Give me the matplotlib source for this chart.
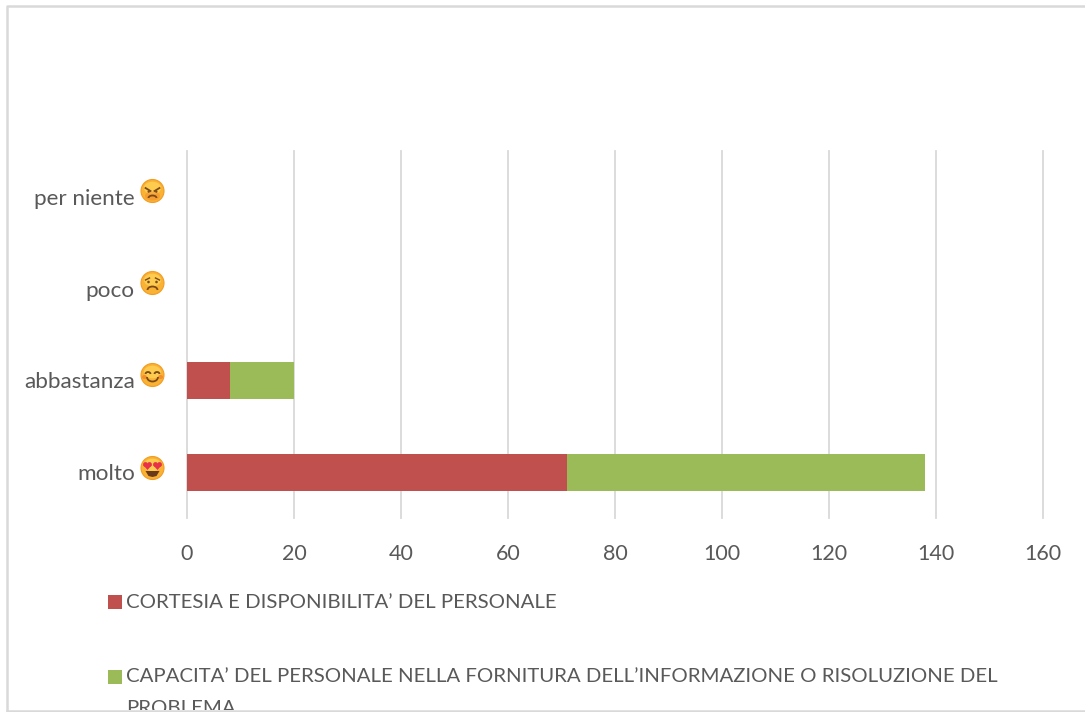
import matplotlib
matplotlib.use('Agg')
import matplotlib.pyplot as plt
from matplotlib.patches import Circle, Ellipse, Polygon, Rectangle, Arc
from matplotlib.lines import Line2D

W, H = 1085, 712
plt.rcParams['font.family'] = ['Lato', 'DejaVu Sans']

categories = ['molto', 'abbastanza', 'poco', 'per niente']
cortesia = [71, 8, 0, 0]
capacita = [67, 12, 0, 0]
x_ticks = [0, 20, 40, 60, 80, 100, 120, 140, 160]
series_names = ['CORTESIA E DISPONIBILITA’ DEL PERSONALE',
                'CAPACITA’ DEL PERSONALE NELLA FORNITURA DELL’INFORMAZIONE O RISOLUZIONE DEL\nPROBLEMA']

RED = '#C0504D'
GREEN = '#9BBB59'
GREY = '#595959'
GRID = '#D9D9D9'

fig = plt.figure(figsize=(W / 100, H / 100), dpi=100)

# calque en pixels pour le cadre, la légende et les emojis (y vers le bas)
px = fig.add_axes([0, 0, 1, 1])
px.set_xlim(0, W)
px.set_ylim(H, 0)
px.axis('off')

ax = fig.add_axes([187 / W, 1 - 518 / H, (1043 - 187) / W, (518 - 151) / H])
ax.set_zorder(1)
ax.patch.set_alpha(0)
y = range(len(categories))
ax.barh(y, cortesia, height=0.405, color=RED)
ax.barh(y, capacita, left=cortesia, height=0.405, color=GREEN)
ax.set_xlim(0, 160)
ax.set_ylim(-0.5, 3.5)
ax.set_xticks(x_ticks)
ax.set_yticks(list(y))
ax.set_yticklabels(categories)
ax.xaxis.grid(True, color=GRID, lw=1.3)
for g in ax.get_xgridlines():
    g.set_clip_on(False)
ax.set_axisbelow(True)
for s in ax.spines.values():
    s.set_visible(False)
ax.tick_params(axis='both', length=0, labelsize=15.5, labelcolor=GREY)
ax.tick_params(axis='x', pad=19)
ax.tick_params(axis='y', pad=37.5, labelsize=16.2)

# cadre de l'image, coupé à droite et en bas
px.add_line(Line2D([1085, 7, 7], [6, 6, 710], color=GRID, lw=1.8))

# légende
clip = Rectangle((0, 0), W, 710, transform=px.transData)
px.add_patch(Rectangle((108, 595), 14, 14, color=RED, lw=0))
px.add_patch(Rectangle((108, 670), 14, 14, color=GREEN, lw=0))
px.text(126, 602, series_names[0], fontsize=14.7, color=GREY, va='center')
px.text(126, 677, series_names[1].split('\n')[0], fontsize=14.7, color=GREY, va='center')
t2 = px.text(126, 708, series_names[1].split('\n')[1], fontsize=14.7, color=GREY, va='center')
t2.set_clip_on(True)
t2.set_clip_path(clip)
px.add_line(Line2D([7, 1085], [710.5, 710.5], color=GRID, lw=1.8, zorder=5))


def face(cx, cy, kind):
    r = 11.5
    px.add_patch(Circle((cx, cy), r, fc='#F9B233', ec='#F39C24', lw=0.8))
    px.add_patch(Ellipse((cx, cy - 3), r * 1.5, r * 1.1, fc='#FDCB4E', ec='none'))
    dark = '#7A4A1C'
    if kind == 'angry':
        px.add_patch(Ellipse((cx, cy + 5), 15, 9, fc='#F0762B', ec='none', alpha=0.35))
        px.add_line(Line2D([cx - 7, cx - 2], [cy - 3, cy], color=dark, lw=1.3))
        px.add_line(Line2D([cx + 7, cx + 2], [cy - 3, cy], color=dark, lw=1.3))
        px.add_patch(Circle((cx - 3.8, cy + 0.6), 1.2, fc=dark, ec='none'))
        px.add_patch(Circle((cx + 3.8, cy + 0.6), 1.2, fc=dark, ec='none'))
        px.add_patch(Arc((cx, cy + 7), 8, 5, theta1=180, theta2=360, color=dark, lw=1.3))
    elif kind == 'sad':
        px.add_patch(Circle((cx - 4, cy - 1), 1.3, fc=dark, ec='none'))
        px.add_patch(Circle((cx + 4, cy - 1), 1.3, fc=dark, ec='none'))
        px.add_line(Line2D([cx - 7, cx - 3], [cy - 3, cy - 5], color=dark, lw=1))
        px.add_line(Line2D([cx + 7, cx + 3], [cy - 3, cy - 5], color=dark, lw=1))
        px.add_patch(Arc((cx, cy + 7), 10, 7, theta1=180, theta2=360, color=dark, lw=1.3))
    elif kind == 'smile':
        px.add_patch(Arc((cx - 4.5, cy - 1), 5, 4, theta1=180, theta2=360, color=dark, lw=1.3))
        px.add_patch(Arc((cx + 4.5, cy - 1), 5, 4, theta1=180, theta2=360, color=dark, lw=1.3))
        px.add_patch(Ellipse((cx - 8, cy + 2), 5, 4, fc='#F0762B', ec='none', alpha=0.6))
        px.add_patch(Ellipse((cx + 8, cy + 2), 5, 4, fc='#F0762B', ec='none', alpha=0.6))
        px.add_patch(Arc((cx, cy + 2), 11, 9, theta1=0, theta2=180, color=dark, lw=1.3))
    else:
        px.add_patch(Polygon([(cx - 7, cy + 3), (cx + 7, cy + 3), (cx + 4, cy + 8),
                              (cx, cy + 9), (cx - 4, cy + 8)], fc='#6B3A1A', ec='none'))
        for sx in (-1, 1):
            hx = cx + sx * 5
            px.add_patch(Circle((hx - 2, cy - 3.5), 2.4, fc='#E8304A', ec='none'))
            px.add_patch(Circle((hx + 2, cy - 3.5), 2.4, fc='#E8304A', ec='none'))
            px.add_patch(Polygon([(hx - 4.3, cy - 2.8), (hx + 4.3, cy - 2.8), (hx, cy + 2)],
                                 fc='#E8304A', ec='none'))


face(152.5, 191, 'angry')
face(152.5, 283, 'sad')
face(152.5, 375, 'smile')
face(152.5, 468, 'love')

fig.savefig('out.png', dpi=100)
